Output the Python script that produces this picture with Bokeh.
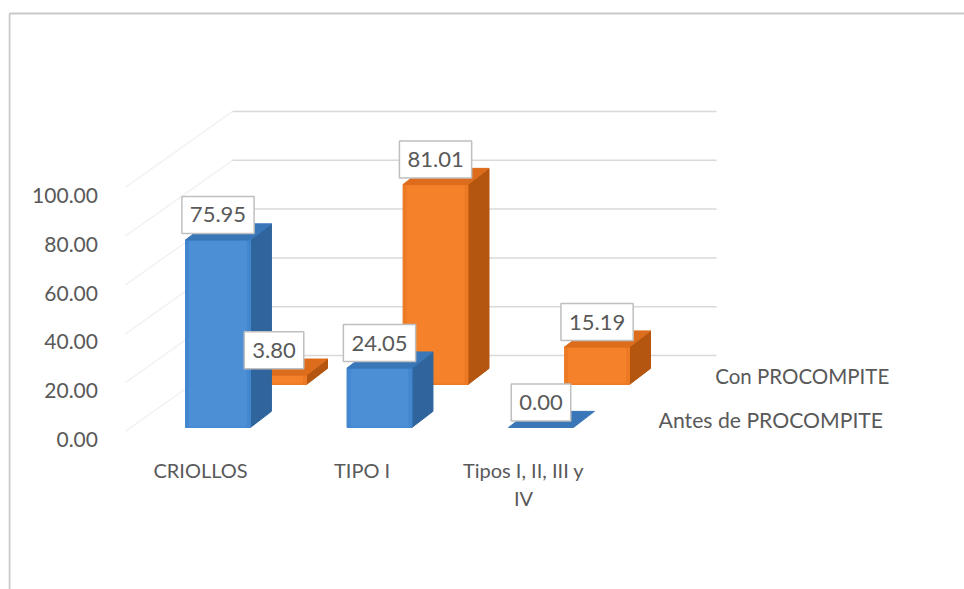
from bokeh.embed import file_html
from bokeh.models import FixedTicker, NumeralTickFormatter
from bokeh.plotting import figure
from bokeh.resources import INLINE
from bokeh.core.properties import value

categories = ["CRIOLLOS", "TIPO I", "Tipos I, II, III y\nIV"]
antes = [75.95, 24.05, 0.00]
con = [3.80, 81.01, 15.19]
y_ticks = [0, 20, 40, 60, 80, 100]
series_names = ["Con PROCOMPITE", "Antes de PROCOMPITE"]

FONT = "Lato"
TXT = "#595959"
HALF_W = 0.201                    # half a bar's width, in category units
DEPTH_X, DEPTH_Y = 0.13, 6.6      # depth of a bar
BAR_SCALE = 1.012                 # front plane is a little nearer to the eye
ROWS = {"antes": (0.0, 4.9), "con": (0.347, 22.5)}
WALL_X, WALL_END, WALL_Y = 0.09, 3.087, 34.4
SIDE_X, SIDE_Y = -0.573, 3.3

X0, X1, Y0, Y1 = -1.297, 4.622, -61.5, 176.6
p = figure(width=956, height=581, output_backend="svg", toolbar_location=None,
           x_range=(X0, X1), y_range=(Y0, Y1), min_border=0, margin=(8, 0, 0, 8),
           background_fill_color="white", border_fill_color="white", outline_line_color=None)
p.grid.visible = False

# chart frame
p.segment([-1.291, -1.291], [174.6, 174.6], [-1.291, X1], [Y0, 174.6], line_color="#c9c9c9", line_width=2)

# walls
p.segment([SIDE_X] * 6, [v + SIDE_Y for v in y_ticks],
          [WALL_X] * 6, [v + WALL_Y for v in y_ticks], line_color="#f2f2f2", line_width=1.5)
p.segment([WALL_X] * 6, [v + WALL_Y for v in y_ticks], [WALL_END] * 6, [v + WALL_Y for v in y_ticks],
          line_color="#d9d9d9", line_width=1.5)


def draw_series(values, row, front_out, front_in, side, top):
    dx, base = ROWS[row]
    for i, v in enumerate(values):
        l, r = i + dx - HALF_W, i + dx + HALF_W
        b, t = base, base + v * BAR_SCALE
        if v > 0:
            p.patch([r, r + DEPTH_X, r + DEPTH_X, r], [b, b + DEPTH_Y, t + DEPTH_Y, t], color=side)
            p.patch([l, r, r, l], [b, b, t, t], color=front_out)
            m = 0.025
            p.patch([l + m, r - m, r - m, l + m], [b + 0.6, b + 0.6, t - 0.6, t - 0.6], color=front_in)
        p.patch([l, r, r + DEPTH_X, l + DEPTH_X], [t, t, t + DEPTH_Y, t + DEPTH_Y], color=top)


def draw_labels(values, row):
    dx, base = ROWS[row]
    p.text([i + dx for i in range(len(values))], [base + v * BAR_SCALE for v in values],
           text=[f"{v:.2f}" for v in values], text_font=value(FONT), text_font_size="22px",
           text_color=TXT, text_align="center", text_baseline="middle", y_offset=-25,
           background_fill_color="white", border_line_color="#bfbfbf", border_line_width=1.5,
           padding=(8, 11))


draw_series(con, "con", "#ec7a24", "#f5822a", "#b4560f", "#dd6c1c")
draw_series(antes, "antes", "#4287cf", "#4c8fd5", "#2f659c", "#3a77b8")
draw_labels(con, "con")
draw_labels(antes, "antes")

# value axis, standing in the chart
ya = p.yaxis[0]
ya.fixed_location = -0.706
ya.ticker = FixedTicker(ticks=y_ticks)
ya.formatter = NumeralTickFormatter(format="0.00")
ya.major_label_text_font = FONT
ya.major_label_text_font_size = "21px"
ya.major_label_text_color = TXT
ya.axis_line_color = None
ya.major_tick_line_color = None
ya.minor_tick_line_color = None
ya.major_label_standoff = 0

# category axis
xa = p.xaxis[0]
xa.fixed_location = -5.0
ticks = [i - 0.108 for i in range(len(categories))]
xa.ticker = FixedTicker(ticks=ticks)
xa.major_label_overrides = {t: c for t, c in zip(ticks, categories)}
xa.major_label_text_font = FONT
xa.major_label_text_font_size = "20px"
xa.major_label_text_color = TXT
xa.axis_line_color = None
xa.major_tick_line_color = None
xa.minor_tick_line_color = None
xa.major_label_standoff = 0

# depth axis labels
p.text([4.156, 4.118], [25.8, 7.8], text=series_names, text_font=value(FONT),
       text_font_size=["20.5px", "21.2px"],
       text_color=TXT, text_align="right", text_baseline="middle")

open("out.html", "w").write(file_html(p, INLINE))
